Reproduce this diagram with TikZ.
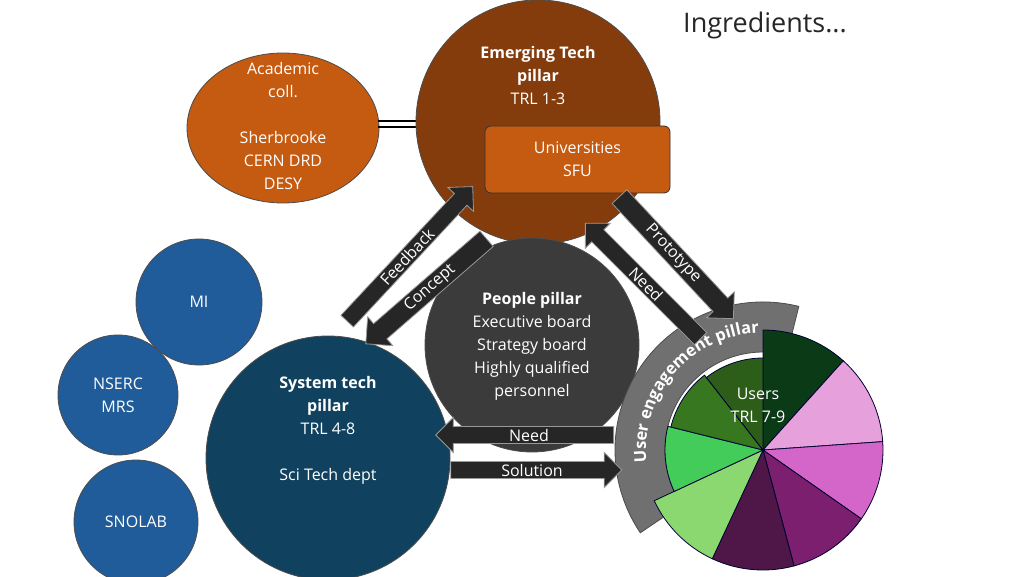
\documentclass[tikz,border=0pt]{standalone}
\usepackage{fontspec}
\setmainfont{Open Sans}
\usetikzlibrary{shapes.arrows,shapes.geometric,decorations.text}
\definecolor{emer}{HTML}{843C0C}
\definecolor{acad}{HTML}{C55A11}
\definecolor{peop}{HTML}{3B3B3B}
\definecolor{syst}{HTML}{10425F}
\definecolor{blu}{HTML}{1F5C99}
\definecolor{arr}{HTML}{262626}
\tikzset{
 txt/.style={text=white,align=center,font=\fontsize{16}{23}\selectfont},
 circ/.style={circle,draw=black!70,line width=0.8pt,inner sep=0pt},
 bigarrow/.style={single arrow,fill=arr,draw=gray!80,line width=0.8pt,minimum width=29pt,single arrow head extend=9pt,single arrow head indent=0pt,text=white,font=\fontsize{16}{18}\selectfont,inner sep=2pt},
 sl/.style={draw=black!80!blue,line width=0.8pt}
}
\begin{document}
\begin{tikzpicture}[x=1pt,y=1pt]
\useasboundingbox (0,0) rectangle (1024,576);
\clip (0,0) rectangle (1024,576);
\node[font=\fontsize{27}{30}\selectfont,text=black!85] (title) at (765,551) {Ingredients...};
% academic
\node[ellipse,draw=black!70,fill=acad,line width=0.8pt,minimum width=192pt,minimum height=150pt,inner sep=0pt] (acad) at (283,448) {};
\node[txt] (acadt) at (283,450) {Academic\\coll.\\[23pt]Sherbrooke\\CERN DRD\\DESY};
\coordinate (d1) at (378,455); \coordinate (d2) at (418,455);
\coordinate (d3) at (378,449); \coordinate (d4) at (418,449);
\draw[line width=2.5pt] (d1) -- (d2);
\draw[line width=2.5pt] (d3) -- (d4);
% emerging
\node[circ,fill=emer,minimum size=244pt] (emer) at (538,454) {};
\node[txt] (emert) at (538,500) {\textbf{Emerging Tech}\\\textbf{pillar}\\TRL 1-3};
\node[draw=black!80,fill=acad,rounded corners=6pt,minimum width=185pt,minimum height=67pt,line width=0.8pt,txt] (univ) at (577.5,416.5) {Universities\\SFU};
% blue circles
\node[circ,fill=blu,minimum size=126pt,txt] (mi) at (199,274) {MI};
\node[circ,fill=blu,minimum size=120pt,txt] (nserc) at (118,181) {NSERC\\MRS};
\node[circ,fill=blu,minimum size=124pt,txt] (snolab) at (136,54) {SNOLAB};
% people
\node[circ,fill=peop,minimum size=214pt] (peop) at (532,231) {};
\node[txt] (peopt) at (532,230) {\textbf{People pillar}\\Executive board\\Strategy board\\Highly qualified\\personnel};
% system
\node[circ,fill=syst,minimum size=244pt] (syst) at (328,118) {};
\node[txt] (systt) at (328,146) {\textbf{System tech}\\\textbf{pillar}\\TRL 4-8\\[23pt]Sci Tech dept};
% band
\fill[gray!75!black!90,draw=black!70,line width=0.8pt] (763,126) ++(76:148) arc[start angle=76,end angle=214,radius=148] -- ++(34:50) arc[start angle=214,end angle=76,radius=98] -- cycle;
\path[decorate,decoration={text along path,text align=center,text={|\fontsize{16.5}{18}\selectfont\bfseries\color{white}|User engagement pillar}}] (763,126) ++(210:117) arc[start angle=210,end angle=68,radius=117];
% pie
\coordinate (pc) at (763,126);
\foreach \a/\b/\r/\c in {48/90/120/0B3B16,4/48/120/E6A0DC,-35/4/120/D366C8,-75/-35/120/7B1F6E,-115/-75/120/4E1747,-155/-115/120/8CD870,166/205/98/44CC5A,128/166/95/36771F,90/128/92/2C5E1A}{
 \definecolor{sc}{HTML}{\c}
 \filldraw[sl,fill=sc] (pc) -- ++(\a:\r) arc[start angle=\a,end angle=\b,radius=\r] -- cycle;
}
\node[txt] (users) at (758,171) {Users\\TRL 7-9};
% arrows
\node[bigarrow,minimum height=184pt,rotate=47] (fb) at (407,319) {Feedback};
\node[bigarrow,minimum height=160pt,rotate=41,shape border rotate=180] (con) at (430,288) {Concept};
\node[bigarrow,minimum height=167pt,rotate=-47] (pro) at (673,322) {Prototype};
\node[bigarrow,minimum height=163pt,rotate=-45,shape border rotate=180] (need1) at (646,292) {Need};
\node[bigarrow,minimum height=178pt,shape border rotate=180] (need2) at (529,141) {Need};
\node[bigarrow,minimum height=171pt] (sol) at (532,106) {Solution};
\end{tikzpicture}
\end{document}
